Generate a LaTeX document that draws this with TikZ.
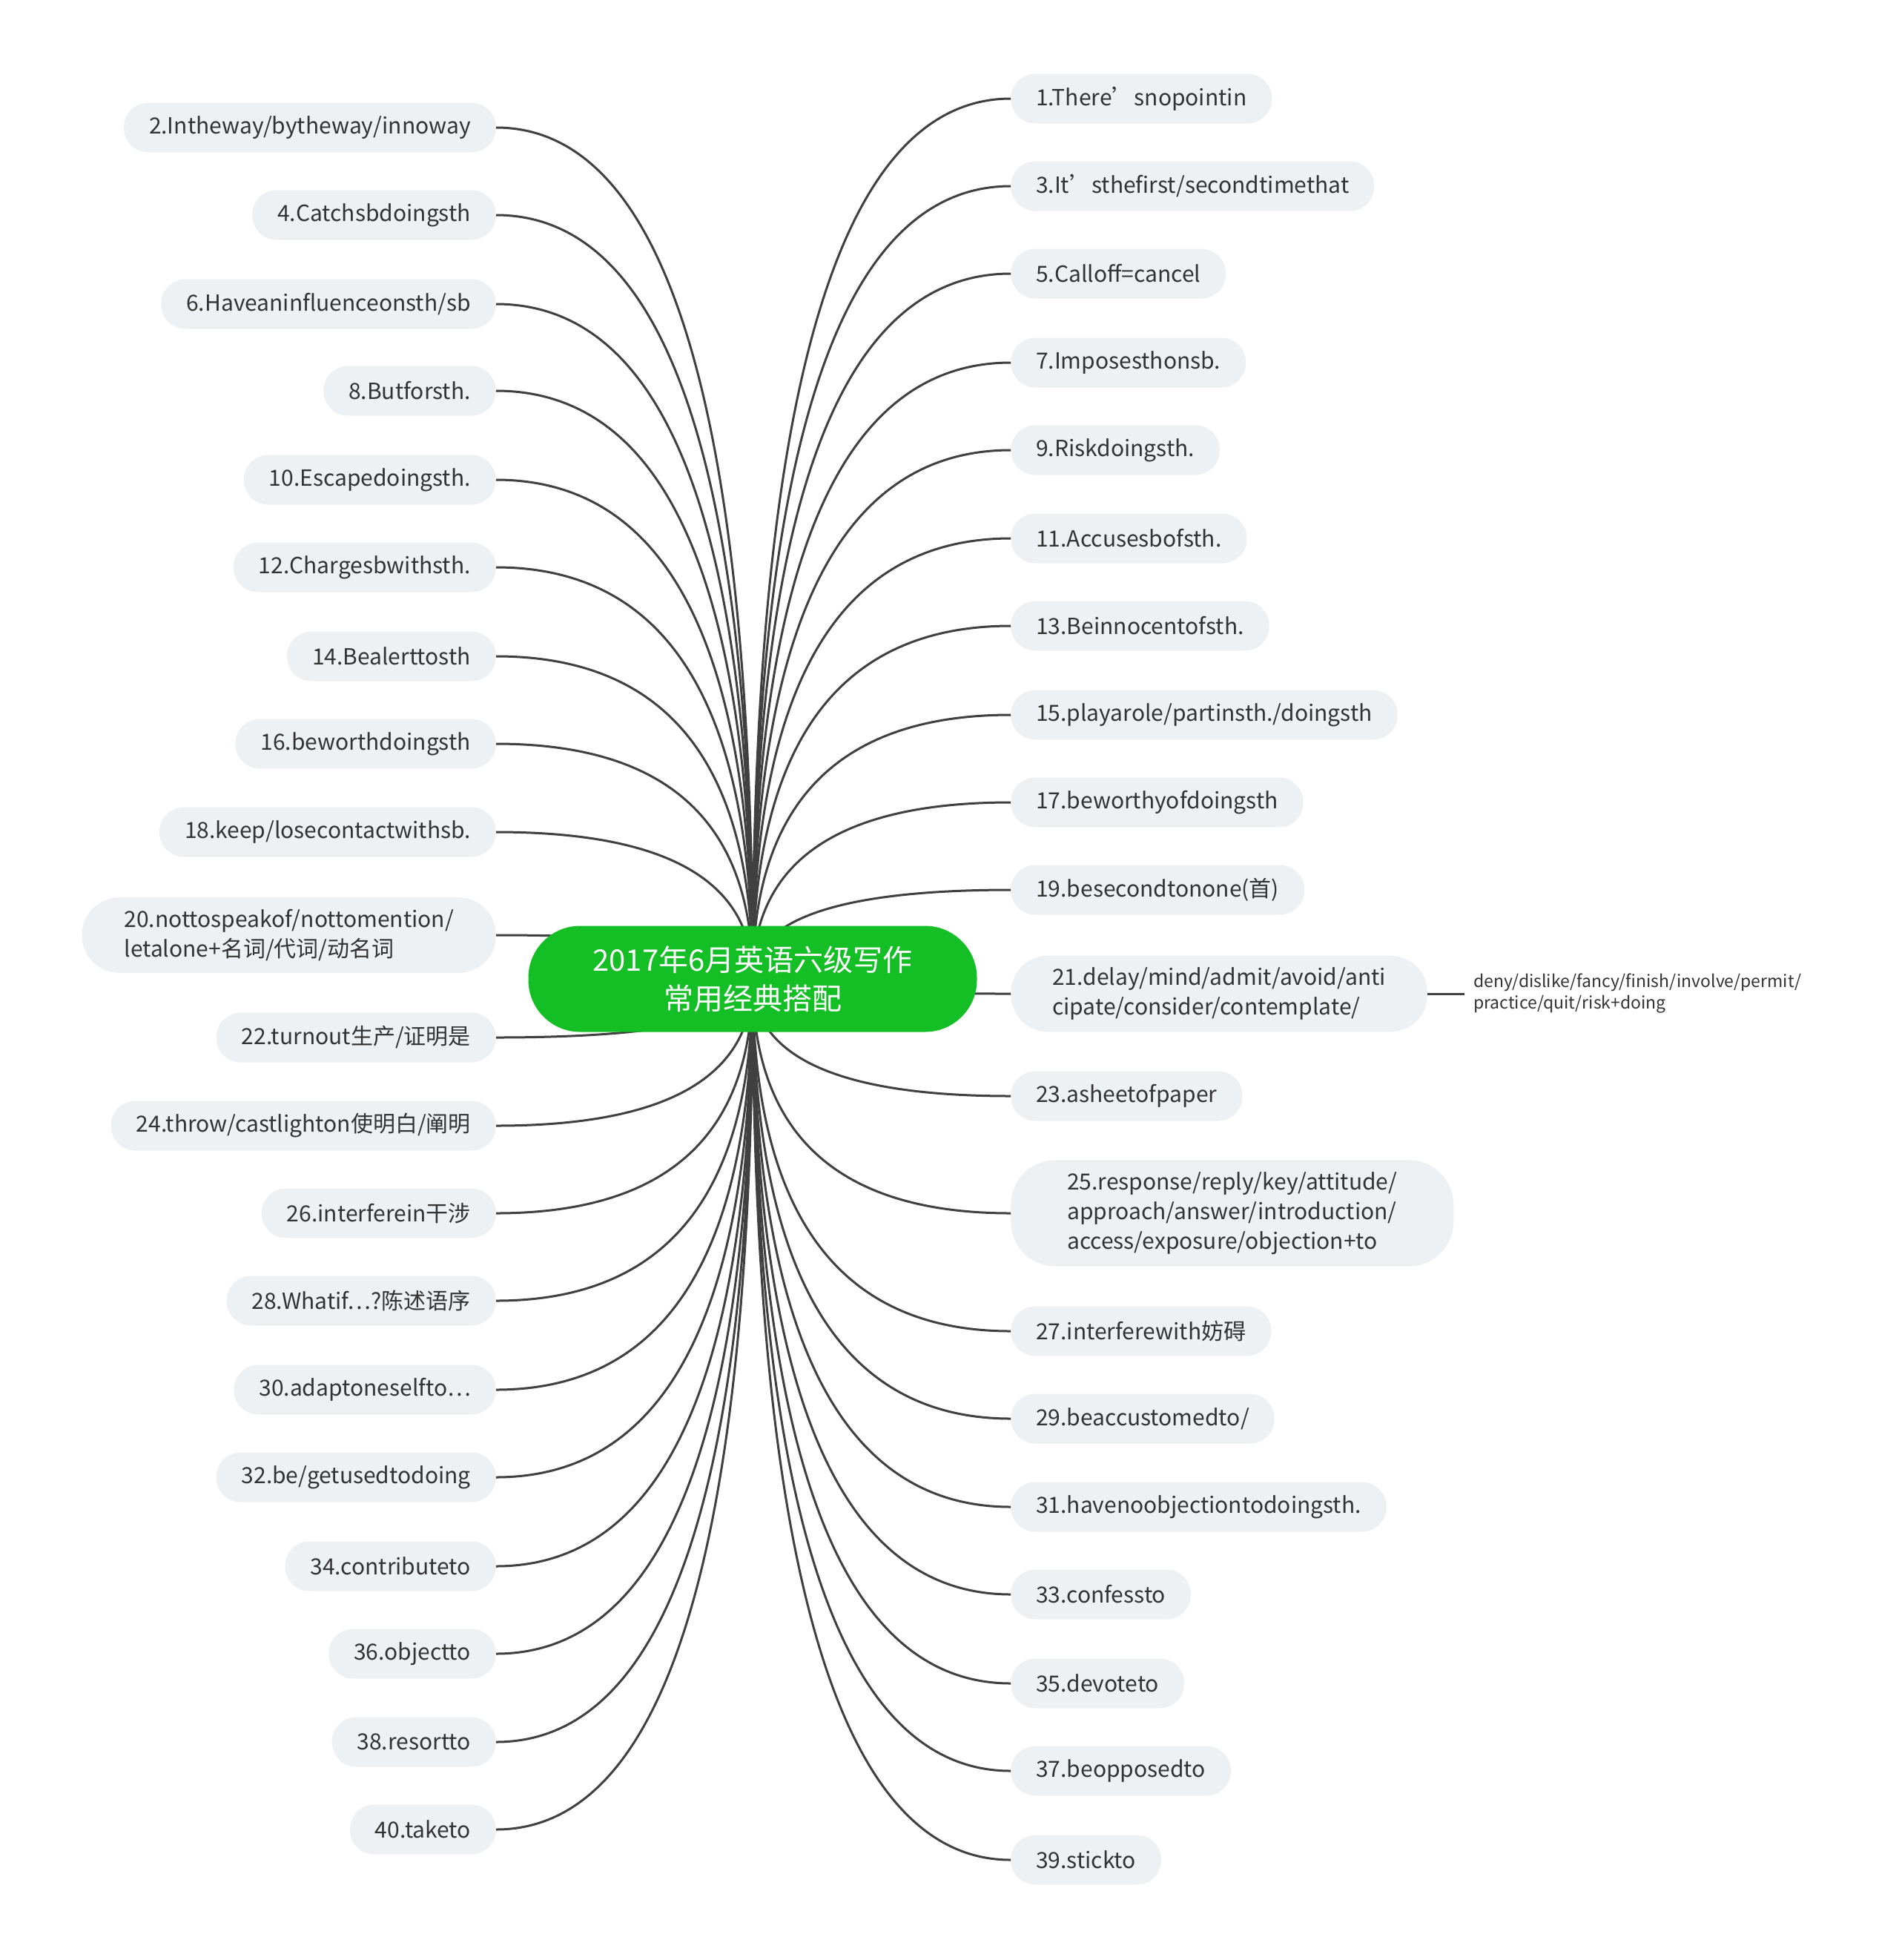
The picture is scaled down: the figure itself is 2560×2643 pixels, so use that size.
\documentclass[tikz,border=0pt]{standalone}
\usepackage{fontspec}
\setmainfont{Noto Sans CJK SC}
\usetikzlibrary{calc}
\definecolor{hubgreen}{RGB}{19,191,36}
\definecolor{bubble}{RGB}{237,241,244}
\definecolor{ink}{RGB}{51,51,51}
\definecolor{branchgray}{RGB}{64,64,64}

\begin{document}
\begin{tikzpicture}[x=1pt, y=-1pt,
  phrase box/.style={fill=bubble, text=ink, align=left, rounded corners=33pt, minimum height=67pt, inner xsep=34pt, inner ysep=16pt, font=\fontsize{30}{40}\selectfont},
  branch/.style={draw=branchgray, line width=3pt}]
\useasboundingbox [fill=white] (0,0) rectangle (2560,2643);
\coordinate (hub) at (1015,1320);

% right side, odd numbers
\node (item 1) [phrase box, anchor=west] at (1363,133) {1.There’snopointin};
\node (item 3) [phrase box, anchor=west] at (1363,251) {3.It’sthefirst/secondtimethat};
\node (item 5) [phrase box, anchor=west] at (1363,369) {5.Calloff=cancel};
\node (item 7) [phrase box, anchor=west] at (1363,489) {7.Imposesthonsb.};
\node (item 9) [phrase box, anchor=west] at (1363,607) {9.Riskdoingsth.};
\node (item 11) [phrase box, anchor=west] at (1363,726) {11.Accusesbofsth.};
\node (item 13) [phrase box, anchor=west] at (1363,844) {13.Beinnocentofsth.};
\node (item 15) [phrase box, anchor=west] at (1363,964) {15.playarole/partinsth./doingsth};
\node (item 17) [phrase box, anchor=west] at (1363,1082) {17.beworthyofdoingsth};
\node (item 19) [phrase box, anchor=west] at (1363,1200) {19.besecondtonone(首)};
\node (item 21) [phrase box, anchor=west, rounded corners=50pt, inner xsep=56pt] at (1363,1340) {21.delay/mind/admit/avoid/anti\\cipate/consider/contemplate/};
\node (item 23) [phrase box, anchor=west] at (1363,1478) {23.asheetofpaper};
\node (item 25) [phrase box, anchor=west, rounded corners=60pt, inner xsep=76pt] at (1363,1636) {25.response/reply/key/attitude/\\approach/answer/introduction/\\access/exposure/objection+to};
\node (item 27) [phrase box, anchor=west] at (1363,1795) {27.interferewith妨碍};
\node (item 29) [phrase box, anchor=west] at (1363,1913) {29.beaccustomedto/};
\node (item 31) [phrase box, anchor=west] at (1363,2032) {31.havenoobjectiontodoingsth.};
\node (item 33) [phrase box, anchor=west] at (1363,2150) {33.confessto};
\node (item 35) [phrase box, anchor=west] at (1363,2270) {35.devoteto};
\node (item 37) [phrase box, anchor=west] at (1363,2388) {37.beopposedto};
\node (item 39) [phrase box, anchor=west] at (1363,2508) {39.stickto};

% left side, even numbers
\node (item 2) [phrase box, anchor=east] at (669,172) {2.Intheway/bytheway/innoway};
\node (item 4) [phrase box, anchor=east] at (669,290) {4.Catchsbdoingsth};
\node (item 6) [phrase box, anchor=east] at (669,410) {6.Haveaninfluenceonsth/sb};
\node (item 8) [phrase box, anchor=east] at (669,527) {8.Butforsth.};
\node (item 10) [phrase box, anchor=east] at (669,647) {10.Escapedoingsth.};
\node (item 12) [phrase box, anchor=east] at (669,765) {12.Chargesbwithsth.};
\node (item 14) [phrase box, anchor=east] at (669,885) {14.Bealerttosth};
\node (item 16) [phrase box, anchor=east] at (669,1003) {16.beworthdoingsth};
\node (item 18) [phrase box, anchor=east] at (669,1122) {18.keep/losecontactwithsb.};
\node (item 20) [phrase box, anchor=east, rounded corners=50pt, inner xsep=57pt] at (669,1261) {20.nottospeakof/nottomention/\\letalone+名词/代词/动名词};
\node (item 22) [phrase box, anchor=east] at (669,1399) {22.turnout生产/证明是};
\node (item 24) [phrase box, anchor=east] at (669,1518) {24.throw/castlighton使明白/阐明};
\node (item 26) [phrase box, anchor=east] at (669,1636) {26.interferein干涉};
\node (item 28) [phrase box, anchor=east] at (669,1754) {28.Whatif…?陈述语序};
\node (item 30) [phrase box, anchor=east] at (669,1874) {30.adaptoneselfto…};
\node (item 32) [phrase box, anchor=east] at (669,1992) {32.be/getusedtodoing};
\node (item 34) [phrase box, anchor=east] at (669,2112) {34.contributeto};
\node (item 36) [phrase box, anchor=east] at (669,2230) {36.objectto};
\node (item 38) [phrase box, anchor=east] at (669,2349) {38.resortto};
\node (item 40) [phrase box, anchor=east] at (669,2467) {40.taketo};

\node (item 21 detail) [anchor=west, inner xsep=12pt, text=ink, align=left, font=\fontsize{23}{29}\selectfont] at (1975,1340) {deny/dislike/fancy/finish/involve/permit/\\practice/quit/risk+doing};
\draw [branch] (item 21.east) -- (item 21 detail.west);

\foreach \n in {1,3,...,39}
  \draw [branch] (hub) .. controls ($(hub)!0.667!(hub |- item \n.west)$) and ($(item \n.west)!0.667!(hub |- item \n.west)$) .. (item \n.west);
\foreach \n in {2,4,...,40}
  \draw [branch] (hub) .. controls ($(hub)!0.667!(hub |- item \n.east)$) and ($(item \n.east)!0.667!(hub |- item \n.east)$) .. (item \n.east);

\node (root) [fill=hubgreen, text=white, rounded corners=70pt, minimum width=605pt, minimum height=143pt, align=center, font=\fontsize{40}{52}\selectfont] at (hub) {2017年6月英语六级写作\\常用经典搭配};
\end{tikzpicture}
\end{document}
